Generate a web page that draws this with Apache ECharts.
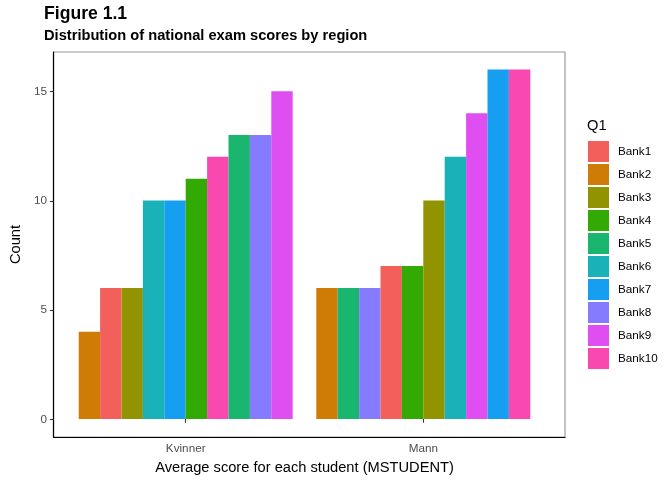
<!DOCTYPE html>
<html>
<head>
<meta charset="utf-8">
<script src="https://cdn.jsdelivr.net/npm/echarts@6/dist/echarts.min.js"></script>
<style>
html,body{margin:0;padding:0;background:#fff;}
#chart{width:672px;height:480px;}
</style>
</head>
<body>
<div id="chart"></div>
<script>
const categories = ['Kvinner', 'Mann'];
const banks = ['Bank1','Bank2','Bank3','Bank4','Bank5','Bank6','Bank7','Bank8','Bank9','Bank10'];
const kvinnerCounts = [6, 4, 6, 11, 13, 10, 10, 13, 15, 12];
const mannCounts = [7, 6, 10, 7, 6, 12, 16, 6, 14, 16];
const yTicks = [0, 5, 10, 15];
const bankColors = ['#F35F5A','#CF7C06','#919400','#33AA03','#1AB56F','#18B2B8','#169FF1','#847BFE','#DF4EF1','#FA48B1'];

const FONT = 'Liberation Sans, Arial, Helvetica, sans-serif';
const groupCounts = [kvinnerCounts, mannCounts];

// order of banks within each group: by count ascending, ties by bank index
const orders = groupCounts.map(counts =>
  banks.map((b, i) => i).sort((a, b) => counts[a] - counts[b] || a - b)
);

const slotSeries = banks.map((_, k) => ({
  type: 'bar',
  xAxisIndex: 1,
  yAxisIndex: 1,
  barWidth: 21.4,
  barGap: '0%',
  silent: true,
  data: categories.map((c, g) => {
    const bi = orders[g][k];
    return { value: groupCounts[g][bi], itemStyle: { color: bankColors[bi] } };
  })
}));

const legendSeries = banks.map((b, i) => ({
  type: 'scatter',
  name: b,
  xAxisIndex: 1,
  yAxisIndex: 1,
  data: [],
  itemStyle: { color: bankColors[i], opacity: 1 }
}));

const panel = { left: 44, top: 52, width: 521, height: 385 };
const band = 237.6;
const center = panel.left + panel.width / 2;

const chart = echarts.init(document.getElementById('chart'), null, { renderer: 'canvas' });
chart.setOption({
  animation: false,
  backgroundColor: '#ffffff',
  textStyle: { fontFamily: FONT },
  graphic: [
    { type: 'text', left: 44, top: 5, style: { text: 'Figure 1.1', font: 'bold 17.6px ' + FONT, fill: '#000' } },
    { type: 'text', left: 44, top: 28, style: { text: 'Distribution of national exam scores by region', font: 'bold 14.67px ' + FONT, fill: '#000' } },
    { type: 'text', left: 587, top: 118, style: { text: 'Q1', font: '14.67px ' + FONT, fill: '#000' } }
  ],
  legend: {
    orient: 'vertical',
    left: 588,
    top: 141,
    padding: 0,
    itemWidth: 21,
    itemHeight: 21,
    itemGap: 2,
    icon: 'rect',
    selectedMode: false,
    data: banks,
    textStyle: { fontSize: 11.73, color: '#000', fontFamily: FONT, padding: [0, 0, 0, 4] }
  },
  grid: [
    { left: panel.left, top: panel.top, width: panel.width, height: panel.height, show: true, borderColor: '#9a9a9a', borderWidth: 1.2, backgroundColor: '#fff', containLabel: false },
    { left: center - band, top: panel.top, width: band * 2, height: panel.height, containLabel: false }
  ],
  xAxis: [
    { type: 'value', gridIndex: 0, min: 0, max: 1, axisLine: { show: true, onZero: false, lineStyle: { color: '#000', width: 1.2 } }, axisTick: { show: false }, axisLabel: { show: false }, splitLine: { show: false } },
    { type: 'category', gridIndex: 1, data: categories, boundaryGap: true,
      axisLine: { show: false },
      axisTick: { show: true, alignWithLabel: true, length: 3.7, lineStyle: { color: '#333', width: 1.1 } },
      axisLabel: { color: '#4d4d4d', fontSize: 11.73, margin: 6.6, fontFamily: FONT },
      splitLine: { show: false },
      name: 'Average score for each student (MSTUDENT)', nameLocation: 'middle', nameGap: 18,
      nameTextStyle: { fontSize: 14.67, color: '#000', fontFamily: FONT, verticalAlign: 'top' } }
  ],
  yAxis: [
    { type: 'value', gridIndex: 0, min: -0.8, max: 16.8,
      axisLine: { show: true, onZero: false, lineStyle: { color: '#000', width: 1.2 } },
      axisTick: { show: true, length: 3.7, customValues: yTicks, lineStyle: { color: '#333', width: 1.1 } },
      axisLabel: { show: true, customValues: yTicks, color: '#4d4d4d', fontSize: 11.73, margin: 6.6, fontFamily: FONT },
      splitLine: { show: false },
      name: 'Count', nameLocation: 'middle', nameGap: 30, nameRotate: 90,
      nameTextStyle: { fontSize: 14.67, color: '#000', fontFamily: FONT } },
    { type: 'value', gridIndex: 1, min: -0.8, max: 16.8, show: false, splitLine: { show: false } }
  ],
  series: slotSeries.concat(legendSeries)
});
</script>
</body>
</html>
